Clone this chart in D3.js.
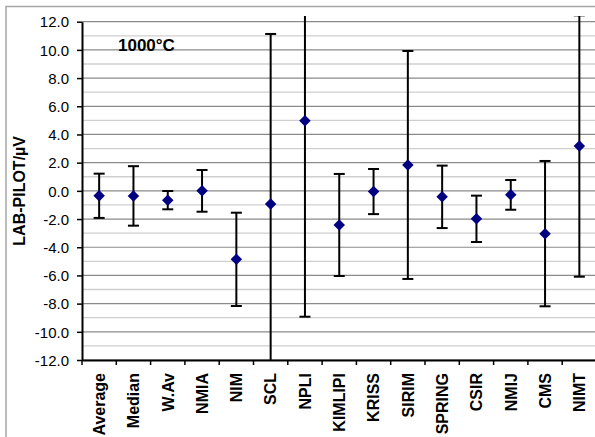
<!DOCTYPE html>
<html><head><meta charset="utf-8">
<script src="https://cdn.jsdelivr.net/npm/d3@7/dist/d3.min.js"></script>
<style>html,body{margin:0;padding:0;background:#fff;}svg{display:block;}</style>
</head><body>
<script>
const categories = ["Average","Median","W.Av","NMIA","NIM","SCL","NPLI","KIMLIPI","KRISS","SIRIM","SPRING","CSIR","NMIJ","CMS","NIMT"];
const values = [-0.35,-0.36,-0.66,0.0,-4.86,-0.93,4.98,-2.42,-0.05,1.835,-0.425,-1.985,-0.285,-3.035,3.18];
const errors = [1.57,2.11,0.65,1.48,3.31,12.06,13.91,3.62,1.6,8.085,2.215,1.645,1.055,5.155,9.27];
const majorTicks = [-12,-10,-8,-6,-4,-2,0,2,4,6,8,10,12];
const minorTicks = [-11,-9,-7,-5,-3,-1,1,3,5,7,9,11];
const title = "1000°C";
const yTitle = "LAB-PILOT/µV";

const W = 595, H = 437;
const L = 82, T = 21.7, B = 360, BAND = 34.3;
const FONT = "'Liberation Sans', Arial, sans-serif";

const svg = d3.select("body").append("svg").attr("width", W).attr("height", H);
svg.append("rect").attr("width", W).attr("height", H).attr("fill", "#fff");

// chart frame
svg.append("path").attr("d", `M6,${H} V6.5 H${W}`).attr("fill", "none")
  .attr("stroke", "#a6a6a6").attr("stroke-width", 1.5);

const x = d3.scaleBand().domain(categories).range([L, L + categories.length * BAND]).padding(0);
const y = d3.scaleLinear().domain([-12, 12]).range([B, T]);

// gridlines
svg.append("g").selectAll("line").data(minorTicks).join("line")
  .attr("x1", L).attr("x2", W).attr("y1", d => y(d)).attr("y2", d => y(d))
  .attr("stroke", "#cfcfcf").attr("stroke-width", 1.3);
svg.append("g").selectAll("line").data(majorTicks).join("line")
  .attr("x1", L).attr("x2", W).attr("y1", d => y(d)).attr("y2", d => y(d))
  .attr("stroke", "#8a8a8a").attr("stroke-width", 1.2);

// clip for error bars
svg.append("clipPath").attr("id", "clip").append("rect")
  .attr("x", 0).attr("y", 16).attr("width", W).attr("height", B - 16);

const data = categories.map((c, i) => ({ c, v: values[i], e: errors[i] }));
const cx = d => x(d.c) + x.bandwidth() / 2;
const eb = svg.append("g").attr("clip-path", "url(#clip)")
  .attr("stroke", "#000").attr("stroke-width", 2).attr("fill", "none");
const g = eb.selectAll("g").data(data).join("g");
g.append("line").attr("x1", cx).attr("x2", cx)
  .attr("y1", d => y(d.v + d.e)).attr("y2", d => y(d.v - d.e));
g.append("line").attr("x1", d => cx(d) - 5.5).attr("x2", d => cx(d) + 5.5)
  .attr("y1", d => y(d.v + d.e)).attr("y2", d => y(d.v + d.e));
g.append("line").attr("x1", d => cx(d) - 5.5).attr("x2", d => cx(d) + 5.5)
  .attr("y1", d => y(d.v - d.e)).attr("y2", d => y(d.v - d.e));

// markers
svg.append("g").selectAll("path").data(data).join("path")
  .attr("d", d3.symbol(d3.symbolSquare, 66))
  .attr("transform", d => `translate(${cx(d)},${y(d.v)}) rotate(45)`)
  .attr("fill", "#000080");

// y axis
const yAxis = svg.append("g").attr("transform", `translate(${L},0)`)
  .call(d3.axisLeft(y).tickValues(majorTicks).tickSize(5).tickSizeOuter(0)
    .tickFormat(d => d.toFixed(1)));
yAxis.select(".domain").attr("stroke", "#000").attr("stroke-width", 2);
yAxis.selectAll(".tick line").attr("stroke", "#000").attr("stroke-width", 1.5);
yAxis.selectAll(".tick text").attr("x", -13).attr("dy", "0.35em")
  .attr("font-family", FONT).attr("font-size", 15).attr("fill", "#000");

// x axis
const xAxis = svg.append("g").attr("transform", `translate(0,${B})`)
  .call(d3.axisBottom(x).tickSize(0).tickSizeOuter(0));
xAxis.select(".domain").attr("stroke", "#000").attr("stroke-width", 2);
xAxis.selectAll(".tick text")
  .attr("transform", "translate(0,13) rotate(-90)")
  .attr("x", 0).attr("y", 0).attr("dy", "0.36em")
  .attr("text-anchor", "end")
  .attr("font-family", FONT).attr("font-size", 16).attr("font-weight", "bold").attr("fill", "#000");
// boundary ticks
svg.append("g").selectAll("line").data(categories.concat([null])).join("line")
  .attr("x1", (d, i) => x.range()[0] + i * x.step())
  .attr("x2", (d, i) => x.range()[0] + i * x.step())
  .attr("y1", B).attr("y2", B + 5)
  .attr("stroke", "#000").attr("stroke-width", 1.5);

// titles
svg.append("text").attr("x", 118).attr("y", 51).text(title)
  .attr("font-family", FONT).attr("font-size", 17).attr("font-weight", "bold");
svg.append("text").attr("transform", `translate(25,${y(0)}) rotate(-90)`)
  .attr("text-anchor", "middle").text(yTitle)
  .attr("font-family", FONT).attr("font-size", 16).attr("font-weight", "bold");
</script>
</body></html>
